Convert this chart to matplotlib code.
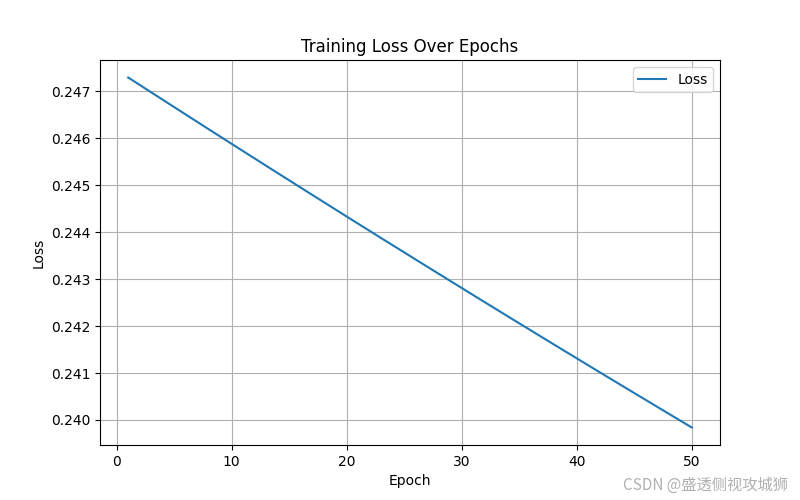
import matplotlib.pyplot as plt

# Loss values (epochs 1..50)
epochs = list(range(1, 51))
loss = [
    0.247290, 0.247132, 0.246974, 0.246817, 0.246660,
    0.246503, 0.246346, 0.246189, 0.246033, 0.245877,
    0.245721, 0.245566, 0.245410, 0.245255, 0.245101,
    0.244946, 0.244792, 0.244638, 0.244484, 0.244330,
    0.244177, 0.244024, 0.243871, 0.243719, 0.243567,
    0.243414, 0.243263, 0.243111, 0.242960, 0.242809,
    0.242658, 0.242507, 0.242357, 0.242207, 0.242057,
    0.241908, 0.241758, 0.241609, 0.241460, 0.241312,
    0.241163, 0.241015, 0.240868, 0.240720, 0.240573,
    0.240426, 0.240279, 0.240132, 0.239986, 0.239840,
]

fig = plt.figure(figsize=(8, 5), dpi=100)
plt.plot(epochs, loss, label='Loss')
plt.title('Training Loss Over Epochs')
plt.xlabel('Epoch')
plt.ylabel('Loss')
plt.legend()
plt.grid(True)

# watermark
fig.text(0.985, 0.03, 'CSDN @盛透侧视攻城狮', ha='right', va='center',
         fontsize=11, color='#b0b0b0',
         family=['Noto Sans CJK SC', 'DejaVu Sans'])

plt.savefig('out.png', dpi=100)
